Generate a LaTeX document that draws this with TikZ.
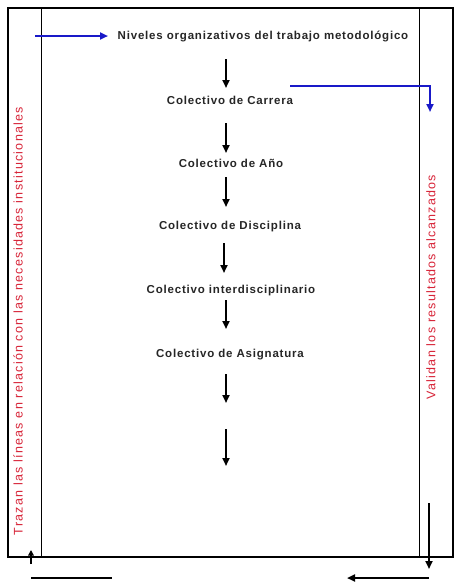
\documentclass[tikz,border=0pt]{standalone}
\usepackage{fontspec}
\setmainfont{Liberation Sans}
\newfontfamily\lvlfont[LetterSpace=7]{Liberation Sans}
\newfontfamily\sidefont[LetterSpace=10]{Liberation Sans}
\usetikzlibrary{arrows.meta}
\definecolor{myred}{RGB}{215,35,55}
\definecolor{myblue}{RGB}{25,25,200}
\tikzset{
  x=1pt, y=-1pt,
  lvl/.style={font=\lvlfont\fontsize{11.5}{13}\selectfont\bfseries, text=black!85, inner sep=0pt, anchor=center},
  side/.style={font=\sidefont\fontsize{12.5}{14}\selectfont, text=myred, inner sep=0pt, rotate=90},
  frame/.style={line width=1.3pt},
  arr/.style={line width=2.2pt, -{Triangle[length=8pt,width=7pt]}},
  barr/.style={line width=2.2pt, draw=myblue, -{Triangle[length=8pt,width=7pt,fill=myblue]}},
  plain/.style={line width=2.2pt}
}
\begin{document}
\begin{tikzpicture}
\useasboundingbox (0,0) rectangle (459,584);
% frame
\draw[frame] (8,8) rectangle (453,557);
\draw[frame] (41.5,8) -- (41.5,557);
\draw[frame] (419.5,8) -- (419.5,557);
% level nodes
\node[lvl] (title) at (263,36) {Niveles organizativos del trabajo metodológico};
\node[lvl] (carr) at (230,100) {Colectivo de Carrera};
\node[lvl] (anio) at (231,163) {Colectivo de Año};
\node[lvl] (disc) at (230,227) {Colectivo de Disciplina};
\node[lvl] (inter) at (231,291) {Colectivo interdisciplinario};
\node[lvl] (asig) at (230,355) {Colectivo de Asignatura};
% side texts
\node[side] (left) at (18,321) {Trazan las líneas en relación con las necesidades institucionales};
\node[side] (right) at (431,287) {Validan los resultados alcanzados};
% arrow coordinates
\coordinate (a1s) at (226,59);  \coordinate (a1e) at (226,88);
\coordinate (a2s) at (226,123); \coordinate (a2e) at (226,153);
\coordinate (a3s) at (226,177); \coordinate (a3e) at (226,207);
\coordinate (a4s) at (224,243); \coordinate (a4e) at (224,273);
\coordinate (a5s) at (226,300); \coordinate (a5e) at (226,329);
\coordinate (a6s) at (226,374); \coordinate (a6e) at (226,403);
\coordinate (a7s) at (226,429); \coordinate (a7e) at (226,466);
\foreach \i in {1,...,7} {\draw[arr] (a\i s) -- (a\i e);}
% blue connectors
\coordinate (bl) at (35,36);
\coordinate (bt) at (108,36);
\draw[barr] (bl) -- (bt);
\coordinate (cs) at (290,86);
\coordinate (ce) at (430,112);
\draw[barr] (cs) -| (ce);
% bottom marks
\coordinate (u1) at (31,564); \coordinate (u2) at (31,550);
\draw[line width=1.8pt, -{Triangle[length=5.5pt,width=5.5pt]}] (u1) -- (u2);
\coordinate (l1) at (31,578); \coordinate (l2) at (112,578);
\draw[plain] (l1) -- (l2);
\coordinate (d1) at (429,503); \coordinate (d2) at (429,569);
\draw[arr] (d1) -- (d2);
\coordinate (r1) at (429,578); \coordinate (r2) at (347,578);
\draw[arr] (r1) -- (r2);
\end{tikzpicture}
\end{document}
